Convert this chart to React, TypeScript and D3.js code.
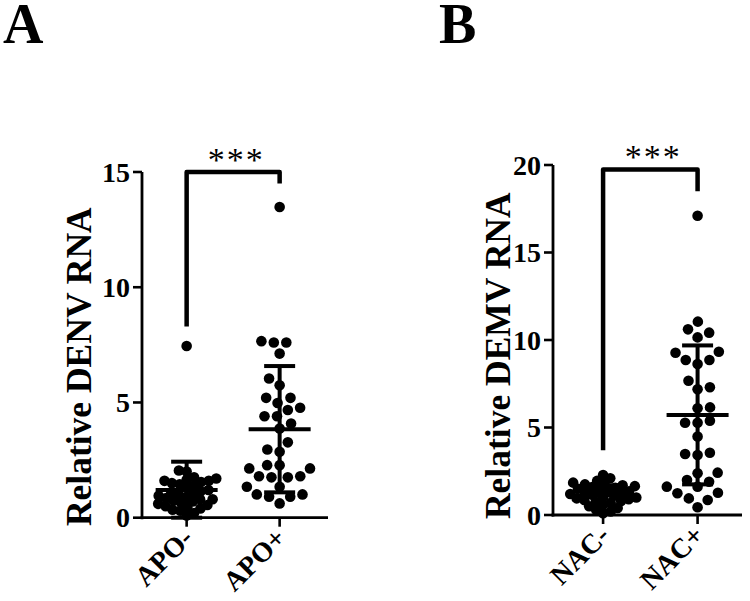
import React from "react";
import * as d3 from "d3";

const panelLetters = ["A", "B"];
const categoriesA = ["APO-", "APO+"];
const categoriesB = ["NAC-", "NAC+"];

const apoMinus = [7.45, 2.05, 2.0, 1.75, 1.7, 1.65, 1.6, 1.6, 1.55, 1.5, 1.45, 1.4, 1.3, 1.2, 1.15, 1.1, 1.05, 1.0, 0.95, 0.9, 0.85, 0.8, 0.8, 0.75, 0.7, 0.65, 0.6, 0.55, 0.5, 0.45, 0.4, 0.35, 0.3, 0.2, 0.1];
const apoPlus = [13.48, 7.66, 7.6, 7.6, 7.12, 6.04, 5.75, 5.2, 5.2, 4.98, 4.77, 4.67, 4.4, 4.4, 4.09, 3.87, 3.27, 2.96, 2.86, 2.28, 2.14, 2.14, 2.28, 1.8, 1.75, 1.75, 1.8, 1.34, 1.34, 1.01, 0.91, 0.91, 1.01, 0.62];
const nacMinus = [2.29, 2.1, 1.95, 1.85, 1.8, 1.75, 1.7, 1.65, 1.6, 1.55, 1.5, 1.45, 1.4, 1.35, 1.3, 1.25, 1.2, 1.15, 1.1, 1.05, 1.0, 0.95, 0.9, 0.85, 0.8, 0.75, 0.7, 0.6, 0.5, 0.4, 0.3, 0.2, 0.1];
const nacPlus = [17.1, 11.05, 10.42, 10.15, 10.61, 9.33, 9.27, 8.86, 8.86, 8.63, 7.67, 7.3, 7.18, 6.15, 6.1, 5.27, 5.39, 5.27, 4.48, 3.56, 3.49, 3.43, 2.42, 2.38, 2.0, 1.9, 1.62, 1.62, 1.27, 1.24, 0.95, 0.86, 0.44];

const meansA = [1.2, 3.84];
const sdsA = [1.23, 2.74];
const meansB = [1.12, 5.72];
const sdsB = [0.58, 3.97];

const ticksA = [0, 5, 10, 15];
const ticksB = [0, 5, 10, 15, 20];
const titleA = "Relative DENV RNA";
const titleB = "Relative DEMV RNA";
const sigLabels = ["***", "***"];
// bracket: [left end, top, right end] in data units
const bracketA = [8.3, 15, 14.5];
const bracketB = [3.7, 19.75, 18.5];

const FONT = "'Liberation Serif', 'Times New Roman', serif";

function swarm(values: number[], y: (v: number) => number, minDist: number): number[] {
  const order = d3.range(values.length).sort((a, b) => values[a] - values[b]);
  const placed: { x: number; y: number }[] = [];
  const offsets = new Array(values.length).fill(0);
  let flip = 1;
  for (const i of order) {
    const yi = y(values[i]);
    const near = placed.filter((p) => Math.abs(p.y - yi) < minDist);
    const cands = [0];
    for (const p of near) {
      const dx = Math.sqrt(minDist * minDist - (p.y - yi) ** 2);
      cands.push(p.x - dx, p.x + dx);
    }
    cands.sort((a, b) => Math.abs(a) - Math.abs(b) || (a - b) * flip);
    let chosen = 0;
    for (const c of cands) {
      if (near.every((p) => (p.x - c) ** 2 + (p.y - yi) ** 2 >= minDist * minDist - 1e-6)) {
        chosen = c;
        break;
      }
    }
    flip = -flip;
    placed.push({ x: chosen, y: yi });
    offsets[i] = chosen;
  }
  return offsets;
}

type PanelProps = {
  letter: string;
  letterX: number;
  cats: string[];
  groups: number[][];
  spacing: number[];
  means: number[];
  sds: number[];
  ticks: number[];
  title: string;
  axisX: number;
  axisRight: number;
  yBottom: number;
  yTop: number;
  bracket: number[];
  sig: string;
  align: number;
  titleX: number;
  titleY: number;
};

function Panel(p: PanelProps) {
  const yMax = p.ticks[p.ticks.length - 1];
  const y = d3.scaleLinear().domain([0, yMax]).range([p.yBottom, p.yTop]).clamp(true);
  const x = d3.scalePoint<string>().domain(p.cats).range([p.axisX, p.axisRight]).padding(0.5).align(p.align);
  const r = 5.3;
  const lw = 4;
  const x0 = x(p.cats[0])!;
  const x1 = x(p.cats[1])!;
  const bTop = y(p.bracket[1]);
  return (
    <g>
      <text x={p.letterX} y={43} fontFamily={FONT} fontWeight="bold" fontSize={56}>
        {p.letter}
      </text>
      {/* axes */}
      <line x1={p.axisX} x2={p.axisX} y1={p.yBottom + 1.5} y2={p.yTop} stroke="#000" strokeWidth={2.8} />
      <line x1={p.axisX - 1.4} x2={p.axisRight} y1={p.yBottom} y2={p.yBottom} stroke="#000" strokeWidth={2.8} />
      {p.ticks.map((t) => (
        <g key={t}>
          <line x1={p.axisX - 9} x2={p.axisX} y1={y(t)} y2={y(t)} stroke="#000" strokeWidth={2.6} />
          <text x={p.axisX - 12} y={y(t)} dy="0.34em" textAnchor="end" fontFamily={FONT} fontWeight="bold" fontSize={28}>
            {t}
          </text>
        </g>
      ))}
      {p.cats.map((c) => (
        <g key={c}>
          <line x1={x(c)} x2={x(c)} y1={p.yBottom} y2={p.yBottom + 9} stroke="#000" strokeWidth={2.6} />
          <text
            transform={`translate(${x(c)! + 8},${p.yBottom + 22}) rotate(-45)`}
            textAnchor="end"
            fontFamily={FONT}
            fontWeight="bold"
            fontSize={28}
          >
            {c}
          </text>
        </g>
      ))}
      <text
        transform={`translate(${p.titleX},${p.titleY}) rotate(-90)`}
        textAnchor="middle"
        fontFamily={FONT}
        fontWeight="bold"
        fontSize={35.5}
      >
        {p.title}
      </text>
      {/* points */}
      {p.groups.map((vals, gi) => {
        const offs = swarm(vals, y, p.spacing[gi]);
        const cx = x(p.cats[gi])!;
        return (
          <g key={gi}>
            {vals.map((v, i) => (
              <circle key={i} cx={cx + offs[i]} cy={y(v)} r={r} fill="#000" />
            ))}
          </g>
        );
      })}
      {/* mean & sd */}
      {p.means.map((m, gi) => {
        const cx = x(p.cats[gi])!;
        const s = p.sds[gi];
        return (
          <g key={gi} stroke="#000" strokeWidth={lw}>
            <line x1={cx} x2={cx} y1={y(m - s)} y2={y(m + s)} />
            <line x1={cx - 31} x2={cx + 31} y1={y(m)} y2={y(m)} />
            <line x1={cx - 15.5} x2={cx + 15.5} y1={y(m + s)} y2={y(m + s)} />
            <line x1={cx - 15.5} x2={cx + 15.5} y1={y(m - s)} y2={y(m - s)} />
          </g>
        );
      })}
      {/* significance bracket */}
      <path
        d={`M${x0},${y(p.bracket[0])}V${bTop}H${x1}V${y(p.bracket[2])}`}
        fill="none"
        stroke="#000"
        strokeWidth={4.5}
        strokeLinejoin="round"
      />
      <text
        x={(x0 + x1) / 2 + 3}
        y={bTop - 1}
        textAnchor="middle"
        fontFamily={FONT}
        fontSize={34}
        letterSpacing={2}
      >
        {p.sig}
      </text>
    </g>
  );
}

export default function App() {
  return (
    <svg width={750} height={601} style={{ position: "absolute", left: 0, top: 0, background: "#fff" }}>
      <rect width={750} height={601} fill="#fff" />
      <Panel
        letter={panelLetters[0]}
        letterX={3}
        cats={categoriesA}
        groups={[apoMinus, apoPlus]}
        spacing={[7.8, 12.5]}
        means={meansA}
        sds={sdsA}
        ticks={ticksA}
        title={titleA}
        axisX={142}
        axisRight={328}
        yBottom={517.7}
        yTop={172}
        bracket={bracketA}
        sig={sigLabels[0]}
        align={0.48}
        titleX={91}
        titleY={366.7}
      />
      <Panel
        letter={panelLetters[1]}
        letterX={439}
        cats={categoriesB}
        groups={[nacMinus, nacPlus]}
        spacing={[7.8, 12.5]}
        means={meansB}
        sds={sdsB}
        ticks={ticksB}
        title={titleB}
        axisX={553}
        axisRight={742}
        yBottom={515}
        yTop={165}
        bracket={bracketB}
        sig={sigLabels[1]}
        align={0.53}
        titleX={510}
        titleY={355.7}
      />
    </svg>
  );
}
